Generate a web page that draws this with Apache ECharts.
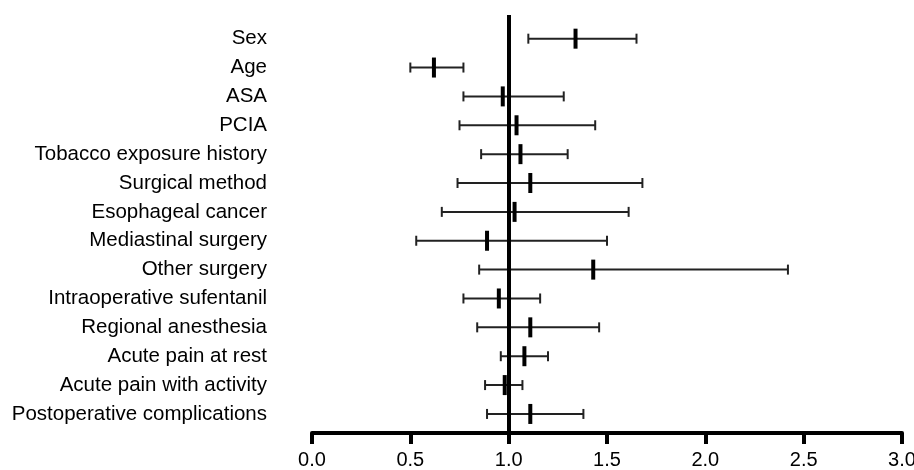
<!DOCTYPE html>
<html><head><meta charset="utf-8">
<script src="https://cdn.jsdelivr.net/npm/echarts@6/dist/echarts.min.js"></script>
<style>html,body{margin:0;padding:0;background:#fff}#c{width:914px;height:470px}</style>
</head><body><div id="c"></div>
<script>
const categories = ["Sex","Age","ASA","PCIA","Tobacco exposure history","Surgical method","Esophageal cancer","Mediastinal surgery","Other surgery","Intraoperative sufentanil","Regional anesthesia","Acute pain at rest","Acute pain with activity","Postoperative complications"];
const estimate = [1.34,0.62,0.97,1.04,1.06,1.11,1.03,0.89,1.43,0.95,1.11,1.08,0.98,1.11];
const lower    = [1.10,0.50,0.77,0.75,0.86,0.74,0.66,0.53,0.85,0.77,0.84,0.96,0.88,0.89];
const upper    = [1.65,0.77,1.28,1.44,1.30,1.68,1.61,1.50,2.42,1.16,1.46,1.20,1.07,1.38];
const xTicks = [0,0.5,1,1.5,2,2.5,3];

const data = categories.map((c,i)=>[i, estimate[i], lower[i], upper[i]]);
const chart = echarts.init(document.getElementById('c'));
chart.setOption({
  animation:false,
  grid:{left:312,right:12,top:15,bottom:37,outerBoundsMode:'none',containLabel:false},
  xAxis:{type:'value',min:0,max:3,interval:0.5,
    axisLine:{show:true,onZero:false,lineStyle:{color:'#000',width:4}},
    axisTick:{show:true,length:11,customValues:xTicks,lineStyle:{color:'#000',width:4}},
    axisLabel:{customValues:xTicks,color:'#000',fontSize:20,fontFamily:'Liberation Sans, Arial',margin:17,formatter:v=>v.toFixed(1)},
    splitLine:{show:false}},
  yAxis:{type:'value',inverse:true,min:-0.82,max:13.66,
    axisLine:{show:false},axisTick:{show:false},splitLine:{show:false},
    axisLabel:{customValues:categories.map((c,i)=>i),formatter:v=>categories[Math.round(v)],
      color:'#000',fontSize:20.5,fontFamily:'Liberation Sans, Arial',margin:45}},
  series:[{
    type:'custom',
    data:data,
    encode:{x:[1,2,3],y:0},
    renderItem:function(params,api){
      const y=api.value(0);
      const p=api.coord([api.value(1),y]);
      const l=api.coord([api.value(2),y]);
      const u=api.coord([api.value(3),y]);
      const ws={stroke:'#222',lineWidth:2};
      return {type:'group',children:[
        {type:'line',shape:{x1:l[0],y1:l[1],x2:u[0],y2:u[1]},style:ws},
        {type:'line',shape:{x1:l[0],y1:l[1]-5,x2:l[0],y2:l[1]+5},style:ws},
        {type:'line',shape:{x1:u[0],y1:u[1]-5,x2:u[0],y2:u[1]+5},style:ws},
        {type:'line',shape:{x1:p[0],y1:p[1]-10,x2:p[0],y2:p[1]+10},style:{stroke:'#000',lineWidth:4}}
      ]};
    },
    markLine:{silent:true,symbol:'none',label:{show:false},
      lineStyle:{color:'#000',width:4,type:'solid'},
      data:[{xAxis:1}]}
  }]
});
</script></body></html>
